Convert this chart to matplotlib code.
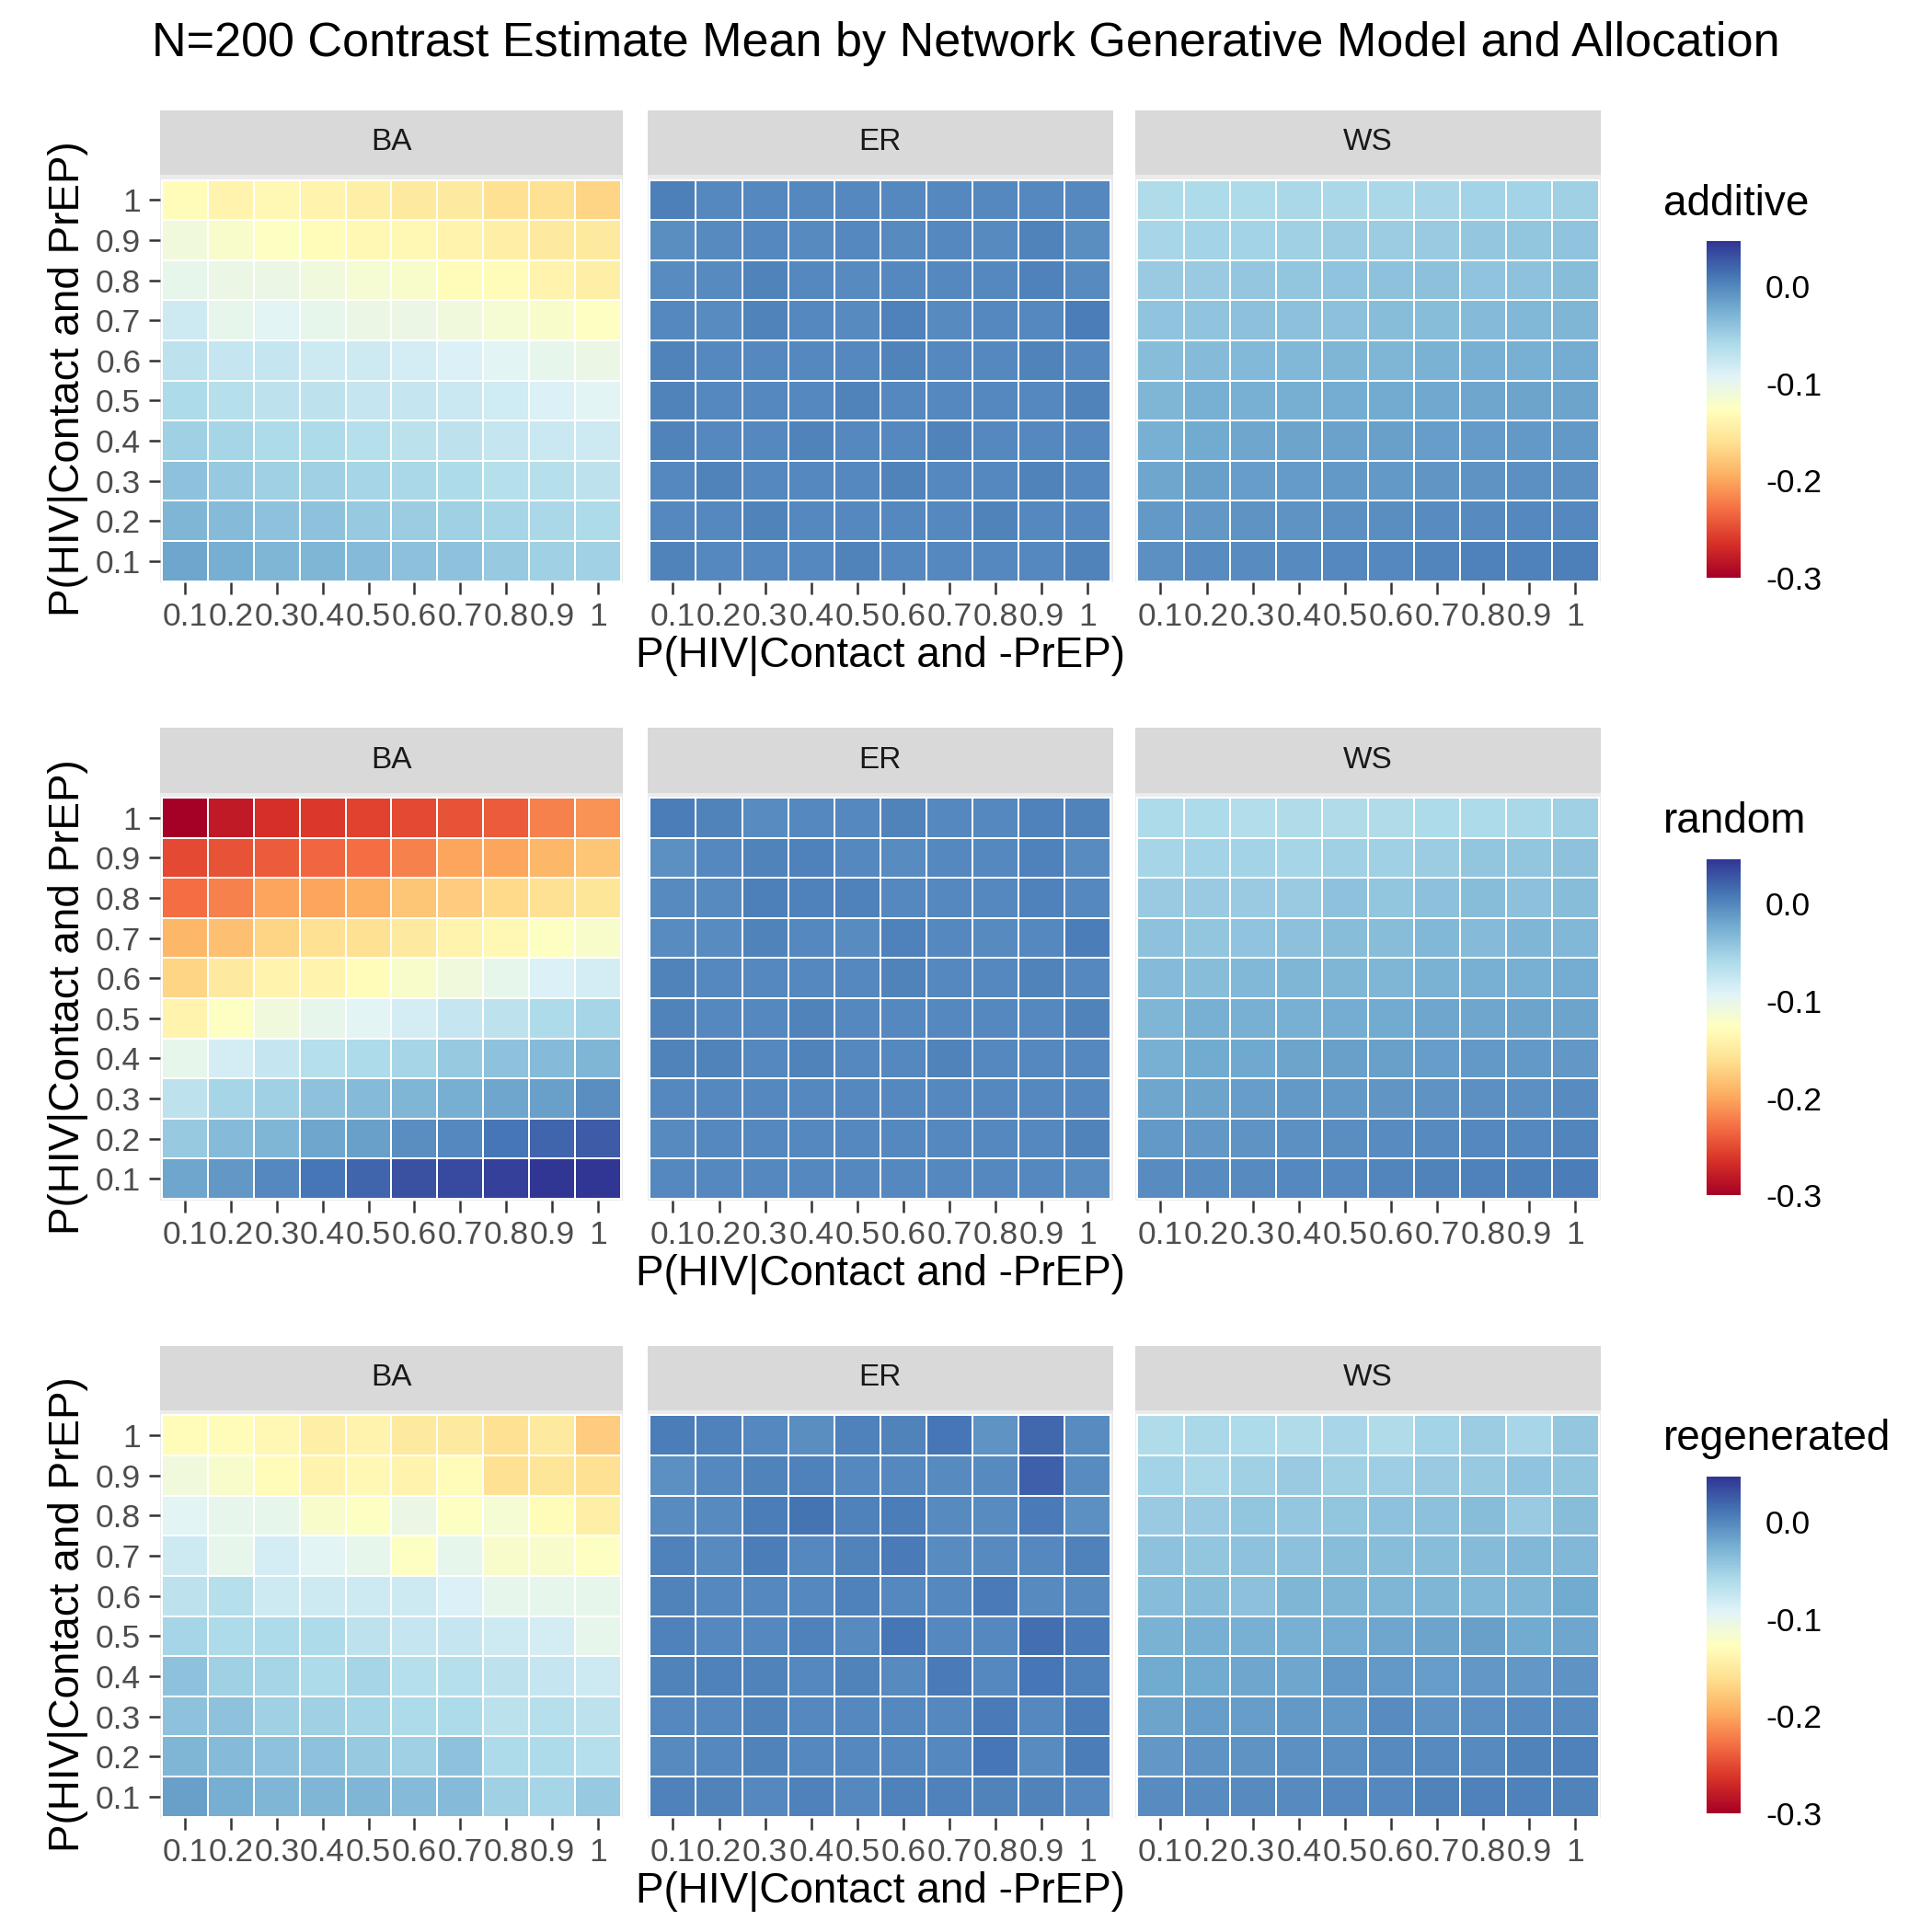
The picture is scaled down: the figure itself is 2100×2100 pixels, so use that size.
import numpy as np
import matplotlib
matplotlib.use("Agg")
import matplotlib.pyplot as plt

plt.rcParams['font.family'] = ['Liberation Sans', 'DejaVu Sans']

px = [0.1, 0.2, 0.3, 0.4, 0.5, 0.6, 0.7, 0.8, 0.9, 1.0]
tick_labels = ["0.1", "0.2", "0.3", "0.4", "0.5", "0.6", "0.7", "0.8", "0.9", "1"]
models = ["BA", "ER", "WS"]
allocations = ["additive", "random", "regenerated"]

# rows listed from P(HIV|Contact and PrEP)=1 (top) down to 0.1
additive_BA = [
    [-0.13, -0.14, -0.135, -0.14, -0.145, -0.15, -0.15, -0.16, -0.16, -0.17],
    [-0.11, -0.12, -0.125, -0.13, -0.135, -0.135, -0.14, -0.145, -0.15, -0.15],
    [-0.10, -0.105, -0.105, -0.11, -0.115, -0.12, -0.13, -0.13, -0.14, -0.145],
    [-0.08, -0.10, -0.095, -0.10, -0.105, -0.105, -0.11, -0.115, -0.12, -0.125],
    [-0.07, -0.075, -0.075, -0.08, -0.08, -0.085, -0.09, -0.095, -0.10, -0.105],
    [-0.06, -0.065, -0.07, -0.07, -0.075, -0.075, -0.078, -0.082, -0.09, -0.095],
    [-0.05, -0.055, -0.06, -0.06, -0.065, -0.068, -0.07, -0.075, -0.078, -0.08],
    [-0.04, -0.045, -0.05, -0.05, -0.055, -0.058, -0.06, -0.065, -0.065, -0.07],
    [-0.03, -0.035, -0.04, -0.04, -0.045, -0.048, -0.05, -0.055, -0.058, -0.06],
    [-0.02, -0.025, -0.03, -0.03, -0.035, -0.038, -0.04, -0.045, -0.05, -0.052],
]
additive_ER = [
    [0.005, 0.0, 0.0, 0.0, 0.0, 0.0, 0.0, 0.0, 0.0, 0.0],
    [-0.005, -0.002, 0.0, -0.002, 0.0, -0.002, 0.0, -0.002, 0.002, -0.005],
    [-0.003, -0.002, 0.002, 0.0, -0.002, 0.0, 0.0, 0.0, 0.003, -0.002],
    [0.0, -0.003, 0.002, 0.0, -0.002, 0.004, -0.002, 0.0, 0.0, 0.006],
    [0.002, 0.0, 0.0, 0.0, 0.0, 0.002, 0.0, 0.0, 0.002, 0.0],
    [0.002, 0.0, 0.0, 0.0, 0.002, 0.0, 0.0, 0.0, 0.0, 0.002],
    [0.002, 0.0, 0.0, 0.002, 0.0, 0.0, 0.002, 0.0, 0.0, 0.0],
    [0.0, 0.002, 0.0, 0.0, 0.0, 0.002, 0.0, 0.0, 0.002, 0.0],
    [0.0, 0.0, 0.002, 0.0, 0.0, 0.0, 0.0, 0.002, 0.0, 0.0],
    [0.002, 0.0, 0.0, 0.0, 0.002, 0.0, 0.0, 0.0, 0.0, 0.002],
]
additive_WS = [
    [-0.062, -0.06, -0.06, -0.058, -0.058, -0.058, -0.056, -0.054, -0.053, -0.05],
    [-0.056, -0.054, -0.053, -0.051, -0.048, -0.048, -0.046, -0.044, -0.042, -0.041],
    [-0.046, -0.046, -0.044, -0.043, -0.041, -0.04, -0.039, -0.041, -0.04, -0.036],
    [-0.041, -0.041, -0.039, -0.038, -0.038, -0.036, -0.036, -0.034, -0.032, -0.03],
    [-0.036, -0.034, -0.033, -0.032, -0.031, -0.03, -0.028, -0.026, -0.026, -0.024],
    [-0.031, -0.026, -0.026, -0.025, -0.023, -0.022, -0.021, -0.02, -0.018, -0.018],
    [-0.026, -0.022, -0.02, -0.018, -0.017, -0.016, -0.014, -0.013, -0.012, -0.011],
    [-0.02, -0.016, -0.014, -0.013, -0.012, -0.011, -0.009, -0.008, -0.006, -0.006],
    [-0.012, -0.01, -0.008, -0.007, -0.006, -0.005, -0.004, -0.002, -0.001, 0.0],
    [-0.006, -0.004, -0.003, -0.002, -0.001, 0.0, 0.001, 0.003, 0.004, 0.005],
]
random_BA = [
    [-0.30, -0.28, -0.265, -0.26, -0.255, -0.25, -0.245, -0.24, -0.22, -0.21],
    [-0.25, -0.245, -0.24, -0.235, -0.23, -0.22, -0.20, -0.20, -0.19, -0.18],
    [-0.23, -0.22, -0.20, -0.20, -0.195, -0.18, -0.175, -0.165, -0.16, -0.155],
    [-0.19, -0.185, -0.17, -0.16, -0.16, -0.15, -0.14, -0.135, -0.125, -0.12],
    [-0.17, -0.15, -0.14, -0.14, -0.13, -0.12, -0.11, -0.10, -0.09, -0.085],
    [-0.14, -0.125, -0.11, -0.10, -0.095, -0.085, -0.075, -0.07, -0.06, -0.055],
    [-0.10, -0.085, -0.075, -0.065, -0.06, -0.055, -0.045, -0.04, -0.035, -0.03],
    [-0.07, -0.055, -0.05, -0.04, -0.035, -0.03, -0.025, -0.02, -0.015, -0.005],
    [-0.045, -0.035, -0.03, -0.02, -0.015, -0.005, 0.0, 0.01, 0.02, 0.025],
    [-0.02, -0.01, 0.0, 0.01, 0.02, 0.03, 0.035, 0.04, 0.045, 0.05],
]
random_ER = [
    [0.006, 0.002, -0.003, 0.0, 0.0, 0.002, 0.0, 0.0, 0.004, 0.002],
    [-0.006, 0.0, 0.002, 0.003, 0.0, -0.003, 0.0, 0.0, 0.004, -0.004],
    [-0.002, -0.002, 0.005, 0.004, 0.003, 0.0, 0.0, 0.0, 0.004, 0.0],
    [-0.003, -0.004, 0.002, 0.0, -0.004, 0.004, 0.0, -0.002, 0.0, 0.006],
    [0.002, 0.0, 0.0, 0.0, 0.0, 0.002, 0.0, 0.0, 0.002, 0.0],
    [0.002, 0.0, 0.0, 0.002, 0.0, 0.0, 0.0, 0.0, 0.0, 0.002],
    [0.002, 0.002, 0.0, 0.002, 0.0, 0.0, 0.002, 0.0, 0.0, 0.0],
    [0.0, 0.0, 0.0, 0.0, 0.0, 0.0, 0.0, 0.0, 0.0, 0.0],
    [-0.002, 0.0, 0.0, 0.0, 0.0, 0.0, 0.0, 0.0, 0.0, 0.002],
    [0.0, 0.0, 0.0, 0.0, 0.0, 0.0, 0.0, 0.0, 0.0, -0.004],
]
random_WS = [
    [-0.06, -0.06, -0.063, -0.062, -0.062, -0.062, -0.06, -0.06, -0.058, -0.05],
    [-0.055, -0.053, -0.053, -0.055, -0.05, -0.05, -0.048, -0.042, -0.042, -0.04],
    [-0.046, -0.046, -0.046, -0.046, -0.04, -0.042, -0.038, -0.036, -0.038, -0.036],
    [-0.04, -0.042, -0.041, -0.038, -0.036, -0.036, -0.032, -0.034, -0.03, -0.032],
    [-0.034, -0.036, -0.032, -0.031, -0.03, -0.03, -0.028, -0.026, -0.026, -0.024],
    [-0.03, -0.026, -0.026, -0.026, -0.023, -0.022, -0.02, -0.02, -0.018, -0.018],
    [-0.026, -0.022, -0.021, -0.018, -0.016, -0.016, -0.014, -0.012, -0.012, -0.01],
    [-0.02, -0.018, -0.014, -0.012, -0.011, -0.009, -0.008, -0.006, -0.006, -0.004],
    [-0.012, -0.01, -0.008, -0.006, -0.005, -0.004, -0.002, -0.001, 0.0, 0.001],
    [-0.004, -0.003, -0.002, -0.001, 0.0, 0.001, 0.002, 0.004, 0.005, 0.006],
]
regenerated_BA = [
    [-0.13, -0.13, -0.135, -0.145, -0.14, -0.15, -0.15, -0.16, -0.15, -0.175],
    [-0.11, -0.12, -0.13, -0.14, -0.135, -0.14, -0.13, -0.16, -0.155, -0.16],
    [-0.095, -0.1, -0.1, -0.12, -0.125, -0.105, -0.125, -0.115, -0.13, -0.145],
    [-0.08, -0.1, -0.085, -0.095, -0.1, -0.125, -0.1, -0.12, -0.12, -0.125],
    [-0.07, -0.065, -0.08, -0.08, -0.08, -0.08, -0.09, -0.1, -0.1, -0.1],
    [-0.055, -0.06, -0.06, -0.06, -0.07, -0.075, -0.075, -0.08, -0.085, -0.1],
    [-0.04, -0.05, -0.055, -0.06, -0.055, -0.065, -0.065, -0.07, -0.075, -0.08],
    [-0.04, -0.04, -0.05, -0.05, -0.055, -0.06, -0.06, -0.068, -0.065, -0.07],
    [-0.03, -0.035, -0.04, -0.04, -0.045, -0.05, -0.04, -0.06, -0.06, -0.065],
    [-0.015, -0.025, -0.03, -0.03, -0.03, -0.035, -0.035, -0.05, -0.055, -0.045],
]
regenerated_ER = [
    [0.006, 0.004, 0.0, -0.005, 0.004, 0.002, 0.01, -0.008, 0.018, -0.004],
    [-0.006, 0.0, 0.002, 0.004, 0.0, 0.0, -0.002, -0.002, 0.022, -0.004],
    [-0.004, -0.002, 0.006, 0.012, 0.004, 0.006, -0.002, -0.004, 0.008, -0.006],
    [0.004, -0.002, 0.006, 0.0, 0.002, 0.008, -0.004, -0.002, 0.0, 0.004],
    [0.002, 0.0, 0.0, 0.0, 0.004, 0.0, 0.0, 0.008, -0.002, -0.002],
    [0.004, 0.0, 0.0, 0.004, -0.002, 0.01, 0.0, 0.0, 0.014, 0.008],
    [0.002, 0.004, 0.002, 0.0, 0.002, -0.002, 0.008, 0.0, 0.01, 0.004],
    [0.0, 0.0, 0.002, 0.0, 0.0, 0.0, 0.0, 0.008, 0.0, 0.006],
    [-0.002, 0.0, 0.002, 0.0, 0.0, 0.0, 0.0, 0.01, -0.004, 0.006],
    [0.004, 0.002, 0.0, 0.004, 0.0, 0.004, 0.004, 0.002, 0.002, 0.0],
]
regenerated_WS = [
    [-0.062, -0.058, -0.06, -0.062, -0.056, -0.062, -0.054, -0.048, -0.056, -0.044],
    [-0.053, -0.057, -0.051, -0.047, -0.051, -0.049, -0.047, -0.045, -0.041, -0.043],
    [-0.046, -0.046, -0.042, -0.044, -0.042, -0.04, -0.038, -0.036, -0.046, -0.036],
    [-0.04, -0.042, -0.04, -0.038, -0.036, -0.036, -0.036, -0.034, -0.032, -0.032],
    [-0.036, -0.036, -0.038, -0.031, -0.03, -0.03, -0.03, -0.032, -0.03, -0.022],
    [-0.028, -0.026, -0.026, -0.026, -0.024, -0.02, -0.018, -0.016, -0.022, -0.02],
    [-0.022, -0.022, -0.02, -0.02, -0.012, -0.012, -0.014, -0.01, -0.01, -0.008],
    [-0.018, -0.014, -0.014, -0.012, -0.011, -0.004, -0.008, -0.006, -0.004, -0.004],
    [-0.01, -0.008, -0.008, -0.006, -0.006, -0.002, -0.002, -0.002, 0.002, 0.004],
    [-0.004, -0.004, -0.002, -0.002, 0.0, 0.0, 0.002, 0.004, 0.004, 0.002],
]

data = {
    "additive": [additive_BA, additive_ER, additive_WS],
    "random": [random_BA, random_ER, random_WS],
    "regenerated": [regenerated_BA, regenerated_ER, regenerated_WS],
}

vmin, vmax = -0.3, 0.046
cmap = plt.get_cmap("RdYlBu")
S = 1545.0

def box(x0, y0, x1, y1):
    return [x0 / S, 1 - y1 / S, (x1 - x0) / S, (y1 - y0) / S]

fig = plt.figure(figsize=(7, 7), dpi=300)
fig.text(0.5, 1 - 35 / S, "N=200 Contrast Estimate Mean by Network Generative Model and Allocation",
         ha="center", va="center", fontsize=12.5)

edges = np.arange(0.05, 1.1, 0.1)
panel_x = [(128, 498), (518, 890), (908, 1280)]
row_y = [88, 582, 1076]
for r, alloc in enumerate(allocations):
    y0 = row_y[r]
    for c, model in enumerate(models):
        x0, x1 = panel_x[c]
        sax = fig.add_axes(box(x0, y0, x1, y0 + 52))
        sax.set_facecolor("#D9D9D9")
        sax.set_xticks([]); sax.set_yticks([])
        for s in sax.spines.values():
            s.set_visible(False)
        sax.text(0.5, 0.5, model, ha="center", va="center", fontsize=8, color="#1A1A1A",
                 transform=sax.transAxes)
        ax = fig.add_axes(box(x0, y0 + 52, x1, y0 + 378))
        ax.set_facecolor("#EBEBEB")
        z = np.array(data[alloc][c])[::-1]
        mesh = ax.pcolormesh(edges, edges, z, cmap=cmap, vmin=vmin, vmax=vmax,
                             edgecolor="#FFFFFF", linewidth=0.05)
        ax.set_xlim(0.0455, 1.0545)
        ax.set_ylim(0.046, 1.062)
        ax.set_xticks(px)
        ax.set_xticklabels(tick_labels, fontsize=8.5, color="#4D4D4D")
        ax.tick_params(length=3, color="#333333", width=0.6, pad=2)
        for s in ax.spines.values():
            s.set_visible(False)
        if c == 0:
            ax.set_yticks(px)
            ax.set_yticklabels(tick_labels, fontsize=8.5, color="#4D4D4D")
            ax.set_ylabel("P(HIV|Contact and PrEP)", fontsize=11, labelpad=2)
        else:
            ax.set_yticks([])
        if c == 1:
            ax.set_xlabel("P(HIV|Contact and -PrEP)", fontsize=11, labelpad=1)
    cax = fig.add_axes(box(1365, y0 + 105, 1392, y0 + 374))
    cb = fig.colorbar(mesh, cax=cax, ticks=[0.0, -0.1, -0.2, -0.3])
    cb.ax.set_yticklabels(["0.0", "-0.1", "-0.2", "-0.3"], fontsize=8.5)
    cb.outline.set_visible(False)
    cb.ax.tick_params(length=3, color="white", width=0.6)
    fig.text(1330 / S, 1 - (y0 + 75) / S, alloc, fontsize=11, va="center", ha="left")

fig.savefig("out.png", dpi=300)
